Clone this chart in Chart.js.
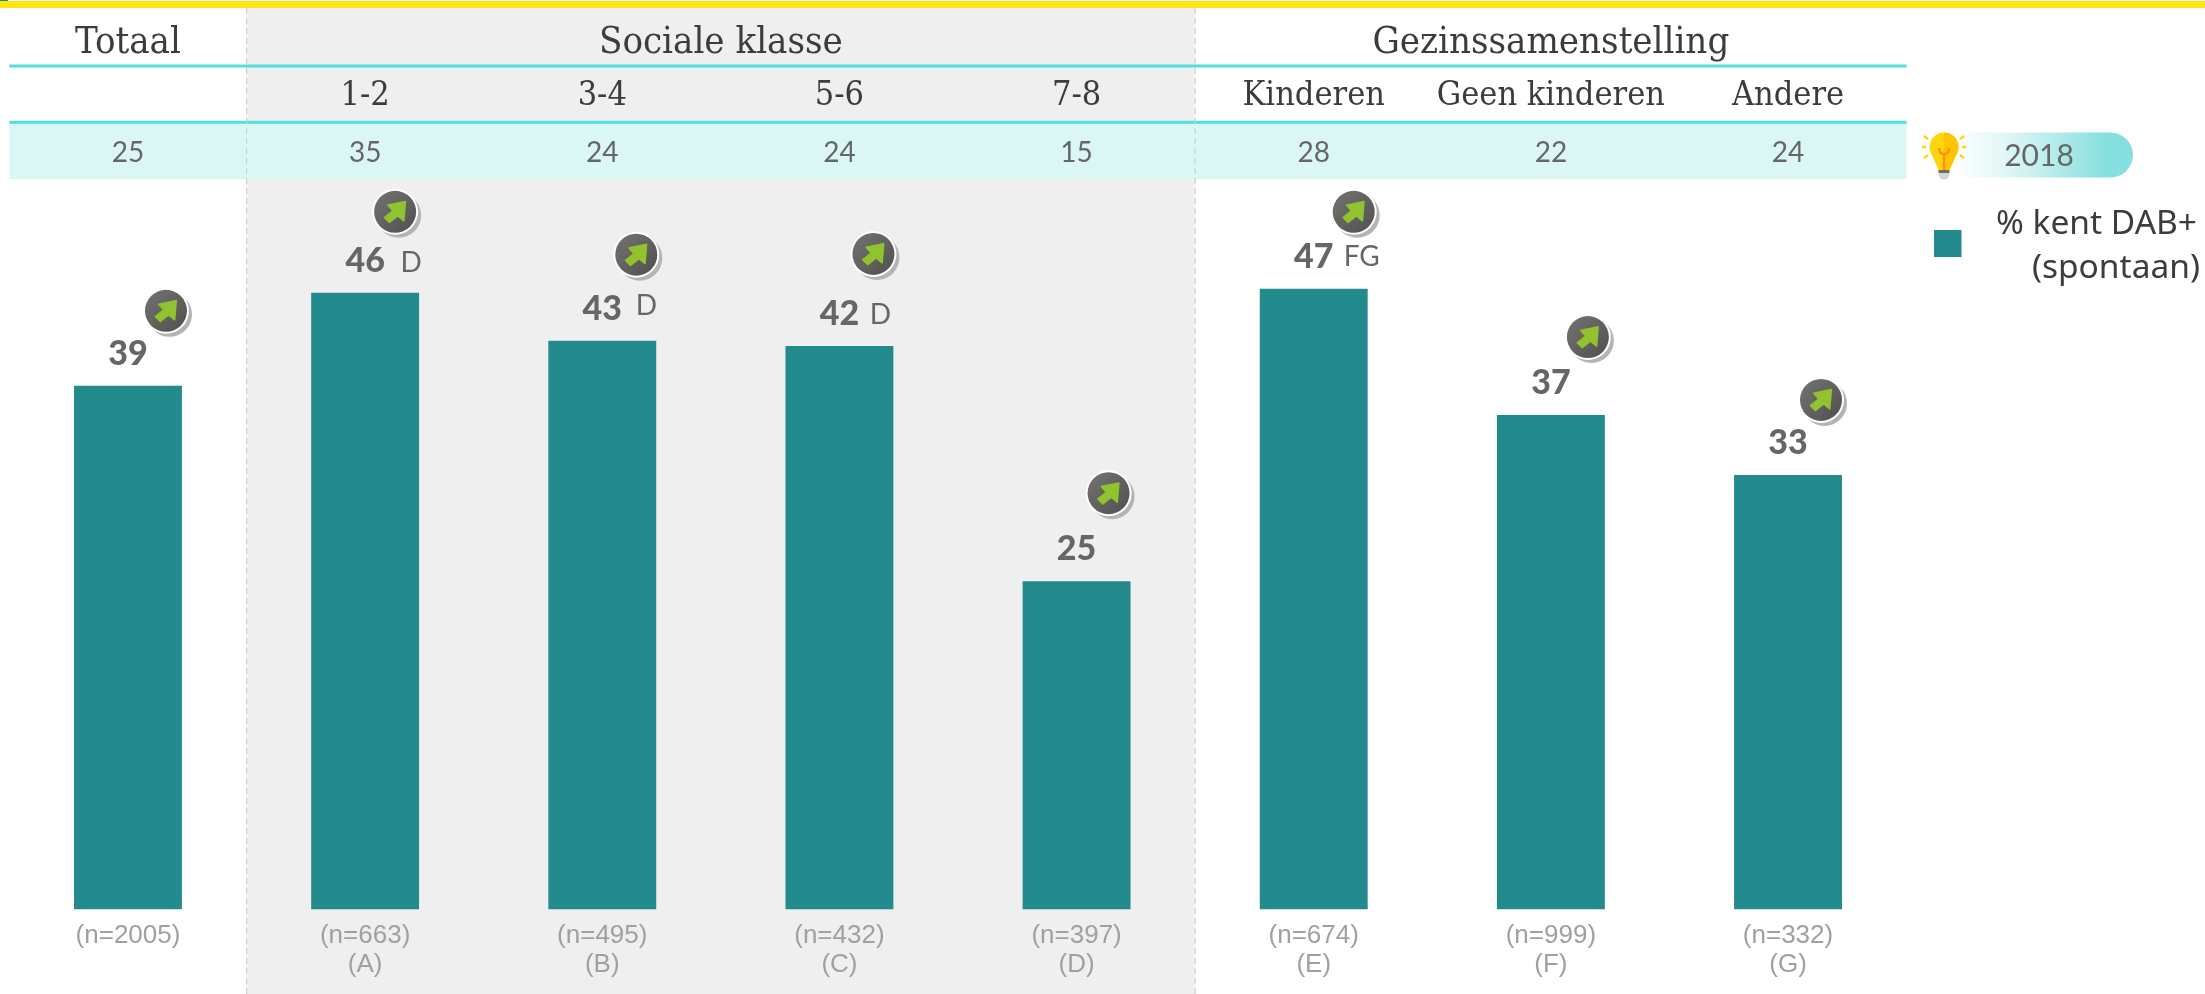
<!DOCTYPE html>
<html><head><meta charset="utf-8">
<style>html,body{margin:0;padding:0;background:#fff;overflow:hidden}canvas{display:block}</style>
<script src="https://cdn.jsdelivr.net/npm/chart.js@4"></script>
</head><body><canvas id="c" width="2205" height="994"></canvas>
<script>
const categories = ['Totaal','1-2','3-4','5-6','7-8','Kinderen','Geen kinderen','Andere'];
const values2024 = [39.4,46.4,42.8,42.4,24.7,46.7,37.2,32.7];
const values2018 = [25,35,24,24,15,28,22,24];
const sampleSizes = ['(n=2005)','(n=663)','(n=495)','(n=432)','(n=397)','(n=674)','(n=999)','(n=332)'];
const columnLetters = ['','(A)','(B)','(C)','(D)','(E)','(F)','(G)'];
const sigLetters = ['','D','D','D','','FG','',''];
const seriesLabel = ['% kent DAB+','(spontaan)'];
const referenceYear = '2018';

// layout (offsets from a bar's centre and top)
const iconDX = [38,30,34,34,32,40,37,33];
const iconDY = [-75,-81,-86,-92,-88,-77,-78,-75];
const sigDX = [0,46,44,41,0,48,0,0];
const sigDY = [0,2,-3,1,0,0,0,0];
const C = {teal:'#238a8d',gray:'#efefef',band:'#daf7f6',line:'#50dfdc',yellow:'#ffe512',dark:'#3c3c3c',mid:'#666666',light:'#a0a0a0'};
const SLAB = '"DejaVu Serif Condensed","DejaVu Serif",serif';
const SANS = 'Lato,sans-serif';

function text(ctx,s,x,y,font,color,align){
  ctx.font=font;ctx.fillStyle=color;ctx.textAlign=align||'center';ctx.textBaseline='middle';ctx.fillText(s,x,y);
}
function trendIcon(ctx,x,y){
  ctx.save();
  ctx.fillStyle='#b4b4b4';ctx.beginPath();ctx.arc(x+3.5,y+3.5,22.5,0,Math.PI*2);ctx.fill();
  ctx.fillStyle='#fff';ctx.beginPath();ctx.arc(x,y,23,0,Math.PI*2);ctx.fill();
  const g=ctx.createLinearGradient(x-15,y-15,x+15,y+15);g.addColorStop(0,'#6e6e6c');g.addColorStop(1,'#555553');
  ctx.fillStyle=g;ctx.beginPath();ctx.arc(x,y,21,0,Math.PI*2);ctx.fill();
  const p=[[-7.3,-6.7],[10.3,-10.3],[8.7,9],[2.7,4],[-5.7,10.7],[-10.7,5.7],[-2.3,-1]];
  ctx.fillStyle='#90c32f';ctx.strokeStyle='#90c32f';ctx.lineWidth=1.5;ctx.lineJoin='round';
  ctx.beginPath();p.forEach((q,i)=>i?ctx.lineTo(x+q[0],y+q[1]):ctx.moveTo(x+q[0],y+q[1]));ctx.closePath();ctx.fill();ctx.stroke();
  ctx.restore();
}
function bulb(ctx,x,y){
  ctx.save();
  ctx.fillStyle='#ffd60a';ctx.beginPath();ctx.arc(x,y-5,14.5,0,Math.PI*2);ctx.fill();
  ctx.beginPath();ctx.moveTo(x-13,y+1);ctx.lineTo(x-5.5,y+18);ctx.lineTo(x+5.5,y+18);ctx.lineTo(x+13,y+1);ctx.closePath();ctx.fill();
  ctx.fillStyle='#ffc400';ctx.beginPath();ctx.arc(x,y-5,14.5,-Math.PI/2,Math.PI/2);ctx.fill();
  ctx.beginPath();ctx.moveTo(x,y);ctx.lineTo(x+13,y+1);ctx.lineTo(x+5.5,y+18);ctx.lineTo(x,y+18);ctx.closePath();ctx.fill();
  ctx.strokeStyle='#f7941d';ctx.lineWidth=2.5;
  ctx.beginPath();ctx.moveTo(x,y+18);ctx.lineTo(x,y+2);ctx.moveTo(x-5,y-4);ctx.quadraticCurveTo(x-5,y+2,x,y+2);ctx.quadraticCurveTo(x+5,y+2,x+5,y-4);ctx.stroke();
  ctx.fillStyle='#6b6b6b';ctx.fillRect(x-5.5,y+18,11,3);
  ctx.fillStyle='#d4d4d4';ctx.beginPath();ctx.moveTo(x-5.5,y+21);ctx.lineTo(x+5.5,y+21);ctx.arc(x,y+22,5.5,0,Math.PI);ctx.closePath();ctx.fill();
  ctx.strokeStyle='#ffd60a';ctx.lineWidth=2.5;
  [[-22,-5,-18,-5],[18,-5,22,-5],[-20,-16,-16,-13],[16,-13,20,-16],[-20,6,-16,3],[16,3,20,6]].forEach(r=>{
    ctx.beginPath();ctx.moveTo(x+r[0],y+r[1]);ctx.lineTo(x+r[2],y+r[3]);ctx.stroke();});
  ctx.restore();
}
const backdrop = {
  id:'backdrop',
  beforeDraw(chart){
    const ctx=chart.ctx,x=chart.scales.x,w=chart.width,h=chart.height;
    const half=(x.getPixelForValue(1)-x.getPixelForValue(0))/2;
    const L=x.getPixelForValue(0)-half,R=x.getPixelForValue(7)+half;
    const g1=x.getPixelForValue(1)-half,g2=x.getPixelForValue(4)+half;
    ctx.save();
    ctx.fillStyle='#fff';ctx.fillRect(0,0,w,h);
    ctx.fillStyle=C.gray;ctx.fillRect(g1,8,g2-g1,h-8);
    ctx.fillStyle=C.yellow;ctx.fillRect(0,1,w,7);
    ctx.fillStyle=C.teal;ctx.fillRect(0,0,8,1);
    ctx.fillStyle=C.band;ctx.fillRect(L,122,R-L,57);
    ctx.fillStyle=C.line;ctx.fillRect(L,64.5,R-L,3);ctx.fillRect(L,120.8,R-L,3);
    ctx.strokeStyle='#cfcfcf';ctx.lineWidth=1.2;ctx.setLineDash([6,4]);
    [g1,g2].forEach(v=>{ctx.beginPath();ctx.moveTo(v,8);ctx.lineTo(v,h);ctx.stroke();});
    ctx.setLineDash([]);
    // group headers
    const head='400 38px '+SLAB;
    text(ctx,'Totaal',x.getPixelForValue(0),43,head,C.dark);
    text(ctx,'Sociale klasse',(g1+g2)/2,43,head,C.dark);
    text(ctx,'Gezinssamenstelling',(g2+R)/2,43,head,C.dark);
    categories.forEach((c,i)=>{
      const cx=x.getPixelForValue(i);
      if(i>0) text(ctx,c,cx,96.5,'400 34px '+SLAB,C.dark);
      text(ctx,String(values2018[i]),cx,153,'400 28px '+SANS,C.mid);
    });
    // reference-year pill
    const pill=ctx.createLinearGradient(1950,0,2133,0);
    pill.addColorStop(0,'#ffffff');pill.addColorStop(.3,'#e2f7f7');pill.addColorStop(.85,'#86dfdf');pill.addColorStop(1,'#86dfdf');
    ctx.fillStyle=pill;ctx.beginPath();ctx.roundRect(1950,132.5,183,45,22.5);ctx.fill();
    text(ctx,referenceYear,2039,156,'400 30px '+SANS,C.mid);
    bulb(ctx,1944,152);
    // legend
    ctx.fillStyle=C.teal;ctx.fillRect(1934,230,27.5,27);
    text(ctx,seriesLabel[0],2197,224,'400 33.5px "Noto Sans",sans-serif',C.dark,'right');
    text(ctx,seriesLabel[1],2200,268,'400 33.5px "Noto Sans",sans-serif',C.dark,'right');
    ctx.restore();
  },
  afterDatasetsDraw(chart){
    const ctx=chart.ctx,x=chart.scales.x,y=chart.scales.y;
    ctx.save();
    values2024.forEach((v,i)=>{
      const cx=x.getPixelForValue(i),top=y.getPixelForValue(v);
      text(ctx,String(Math.round(v)),cx,top-32,'900 34px '+SANS,C.mid);
      if(sigLetters[i]) text(ctx,sigLetters[i],cx+sigDX[i],top-32+sigDY[i],'400 28px '+SANS,C.mid);
      trendIcon(ctx,cx+iconDX[i],top+iconDY[i]);
    });
    ctx.restore();
  }
};
new Chart(document.getElementById('c'),{
  type:'bar',
  data:{labels:categories,datasets:[{label:seriesLabel.join(' '),data:values2024,backgroundColor:C.teal,barPercentage:.455,categoryPercentage:1}]},
  options:{
    responsive:false,animation:false,devicePixelRatio:1,
    layout:{padding:{left:9.4,right:298.4,top:178.5,bottom:0}},
    plugins:{legend:{display:false},tooltip:{enabled:false}},
    scales:{
      y:{display:false,min:0,max:55},
      x:{
        grid:{display:false},border:{display:false},
        afterFit(s){s.height=84.5;},
        ticks:{autoSkip:false,maxRotation:0,minRotation:0,padding:4,color:C.light,
          font:{family:'"Liberation Sans",Arial,sans-serif',size:26,lineHeight:1.1},
          callback(v,i){return columnLetters[i]?[sampleSizes[i],columnLetters[i]]:sampleSizes[i];}}
      }
    }
  },
  plugins:[backdrop]
});
</script></body></html>
